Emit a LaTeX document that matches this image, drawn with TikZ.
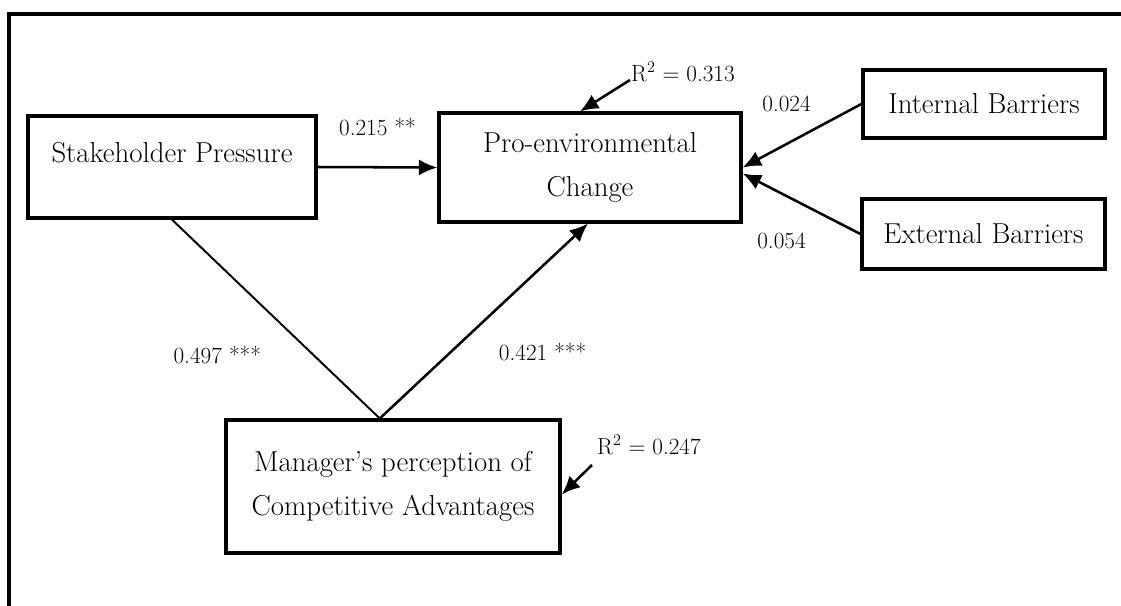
\documentclass[tikz,border=0pt]{standalone}
\usepackage{amsmath,amsfonts}
\usepackage{tikz}
\usetikzlibrary{arrows.meta}

\begin{document}
\begin{tikzpicture}[x=0.025cm, y=-0.025cm, font=\fontsize{16.5}{20}\selectfont,
    bnode/.style={draw, rectangle, line width=2.3pt, align=center, inner sep=2pt, font=\fontsize{20.5}{24}\selectfont},
    link/.style={line width=1.8pt, -{Latex[length=0.46cm, width=0.4cm]}},
    lbl/.style={inner sep=1pt}]
    \useasboundingbox (0,0) rectangle (1121,606);
    \draw[line width=2.3pt] (9,606) -- (9,14) -- (1121,14);

    \node[bnode, minimum width=7.2cm, minimum height=2.55cm, text depth=0.75cm] (sp) at (172,167) {Stakeholder Pressure};
    \node[bnode, minimum width=7.55cm, minimum height=2.72cm] (pec) at (590,167.5) {Pro-environmental\\[7pt] Change};
    \node[bnode, minimum width=6.05cm, minimum height=1.7cm] (ib) at (984,104) {Internal Barriers};
    \node[bnode, minimum width=6.07cm, minimum height=1.75cm] (eb) at (983.5,234) {External Barriers};
    \node[bnode, minimum width=8.35cm, minimum height=3.32cm] (mpca) at (393,486.5) {Manager's perception of\\[7pt] Competitive Advantages};

    \node[lbl] (r1) at (683,72) {R\textsuperscript{2} = 0.313};
    \node[lbl] (r2) at (649,445) {R\textsuperscript{2} = 0.247};
    \coordinate (r1t) at (630,80);
    \coordinate (r2t) at (592,465);

    \draw[link] (sp.east) to node [lbl, pos=0.5, yshift=1cm] {0.215 **} (pec.west) ;
    \draw[link] (ib.west) to node [lbl, pos=0.63, yshift=1cm] {0.024} (pec.east) ;
    \draw[link] (eb.west) to node [lbl, pos=0.67, yshift=-1.18cm] {0.054} ([yshift=-0.15cm]pec.east) ;
    \draw[line width=1.4pt] (sp.south) to node [lbl, pos=0.68, xshift=-2.4cm] {0.497 ***} ([xshift=-0.33cm]mpca.north) ;
    \draw[link] ([xshift=-0.33cm]mpca.north) to node [lbl, pos=0.34, xshift=2.3cm] {0.421 ***} ([xshift=-0.05cm]pec.south) ;

    \draw[link] (r1t) to ([xshift=-0.25cm]pec.north) ;
    \draw[link] (r2t) to ([yshift=-0.2cm]mpca.east) ;
\end{tikzpicture}
\end{document}
